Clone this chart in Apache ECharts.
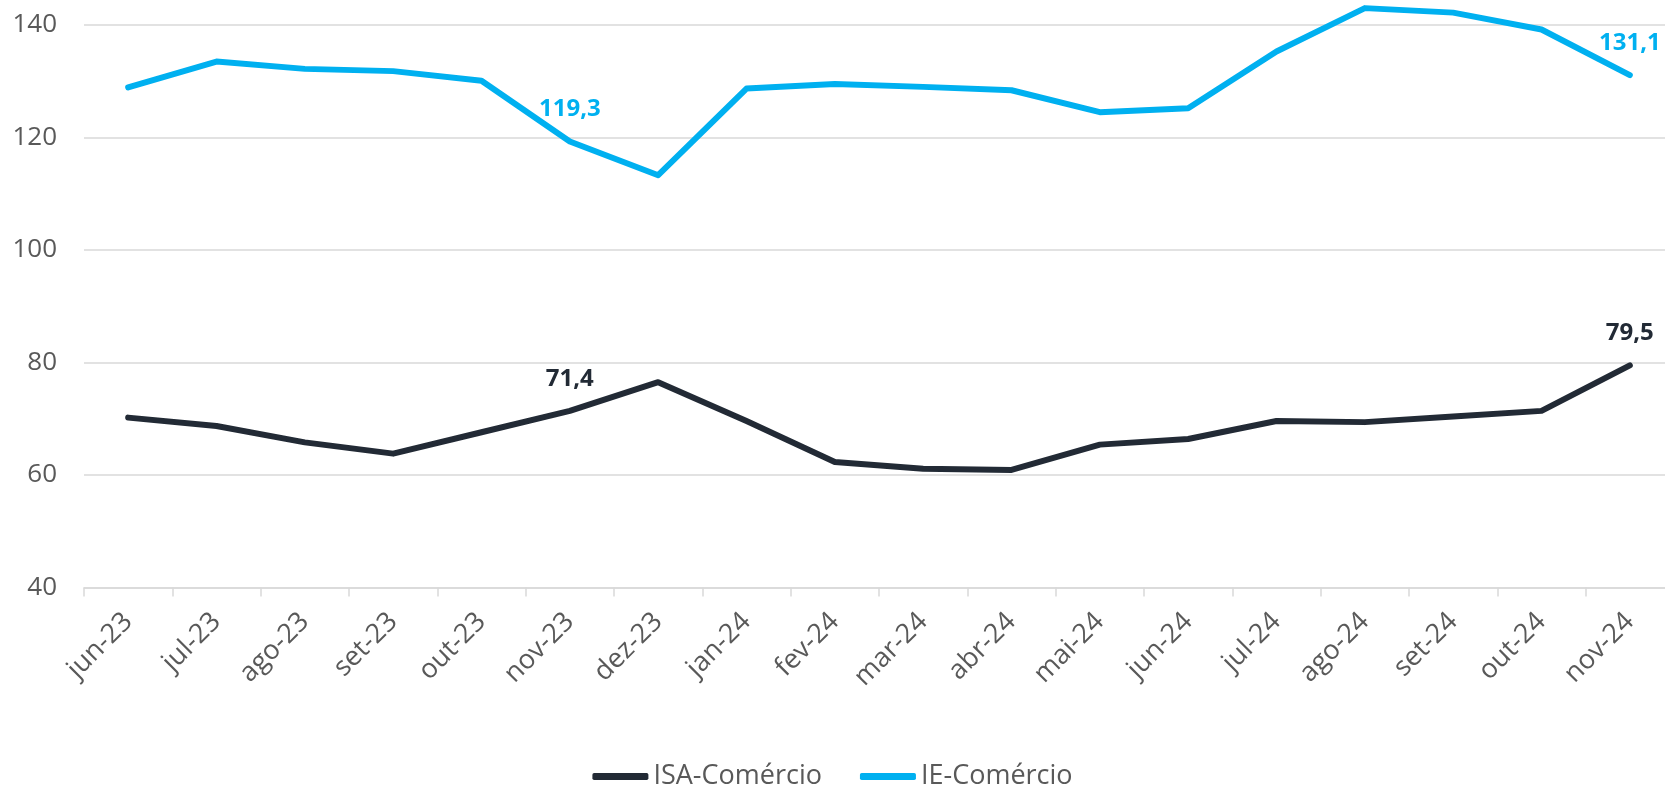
<!DOCTYPE html>
<html>
<head>
<meta charset="utf-8">
<script src="https://cdn.jsdelivr.net/npm/echarts@6/dist/echarts.min.js"></script>
<style>
  html, body { margin: 0; padding: 0; background: #fff; }
  #chart { width: 1665px; height: 787px; }
</style>
</head>
<body>
<div id="chart"></div>
<script>
const months = ['jun-23', 'jul-23', 'ago-23', 'set-23', 'out-23', 'nov-23', 'dez-23', 'jan-24', 'fev-24',
  'mar-24', 'abr-24', 'mai-24', 'jun-24', 'jul-24', 'ago-24', 'set-24', 'out-24', 'nov-24'];
const isaComercio = [70.2, 68.7, 65.8, 63.8, 67.6, 71.4, 76.5, 69.6, 62.3, 61.1, 60.9, 65.4, 66.4, 69.6, 69.4, 70.4, 71.4, 79.5];
const ieComercio = [128.9, 133.5, 132.2, 131.8, 130.1, 119.3, 113.3, 128.7, 129.5, 129.0, 128.4, 124.5, 125.2, 135.3, 143.0, 142.2, 139.2, 131.1];
const labelled = ['nov-23', 'nov-24'];

const FONT = '"Open Sans", Lato, sans-serif';
const GREY = '#595959';
const GRIDLINE = '#D9D9D9';

function withLabels(values, color) {
  return values.map((v, i) => {
    if (!labelled.includes(months[i])) return v;
    return {
      value: v,
      label: {
        show: true,
        position: 'top',
        distance: 20,
        color: color,
        fontFamily: FONT,
        fontWeight: 'bold',
        fontSize: 24,
        formatter: p => p.value.toFixed(1).replace('.', ',')
      }
    };
  });
}

function lineSeries(name, values, color) {
  return {
    name: name,
    type: 'line',
    data: withLabels(values, color),
    symbol: 'circle',
    symbolSize: 0,
    showSymbol: true,
    clip: false,
    lineStyle: { color: color, width: 6, cap: 'round', join: 'round' },
    itemStyle: { color: color }
  };
}

const chart = echarts.init(document.getElementById('chart'), null, { renderer: 'canvas' });
chart.setOption({
  animation: false,
  backgroundColor: '#fff',
  grid: { left: 84, right: -9, top: 25, bottom: 199.5, containLabel: false, outerBoundsMode: 'none' },
  legend: {
    top: 758,
    left: 'center',
    icon: 'roundRect',
    itemWidth: 56,
    itemHeight: 7,
    itemGap: 38,
    textStyle: { color: GREY, fontFamily: FONT, fontSize: 27 },
    data: ['ISA-Comércio', 'IE-Comércio']
  },
  xAxis: {
    type: 'category',
    data: months,
    boundaryGap: true,
    axisLine: { lineStyle: { color: GRIDLINE, width: 1.5 } },
    axisTick: { show: true, length: 9, lineStyle: { color: GRIDLINE, width: 1.5 } },
    axisLabel: { color: GREY, fontFamily: FONT, fontSize: 27, rotate: 45, margin: 30, interval: 0 }
  },
  yAxis: {
    type: 'value',
    min: 40,
    max: 140,
    interval: 20,
    axisLine: { show: false },
    axisTick: { show: false },
    axisLabel: { color: GREY, fontFamily: FONT, fontSize: 26, margin: 27 },
    splitLine: { lineStyle: { color: GRIDLINE, width: 1.5 } }
  },
  series: [
    lineSeries('ISA-Comércio', isaComercio, '#222A35'),
    lineSeries('IE-Comércio', ieComercio, '#00B0F0')
  ]
});
</script>
</body>
</html>
